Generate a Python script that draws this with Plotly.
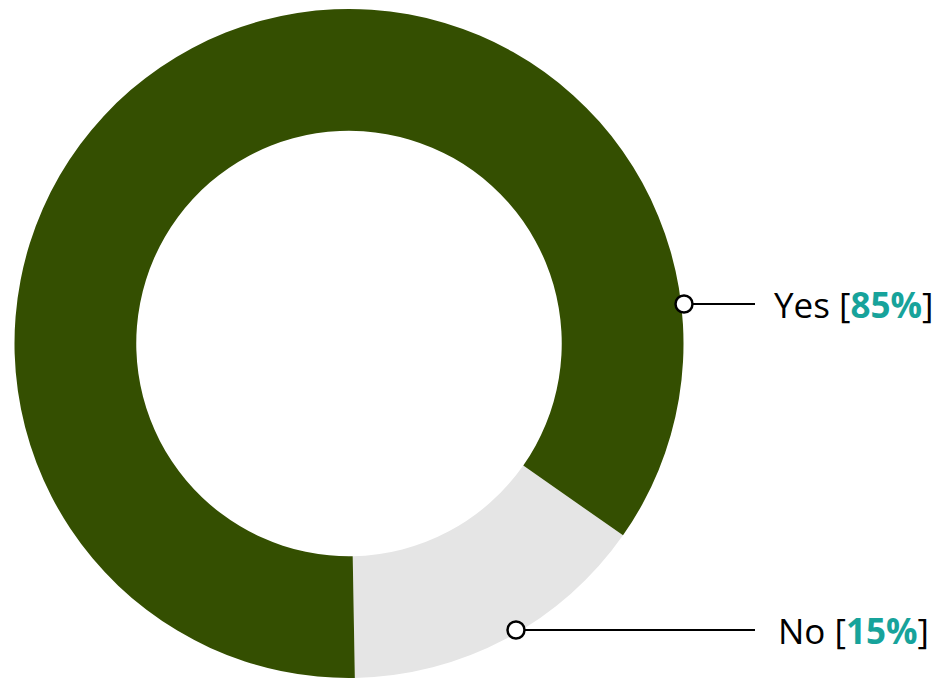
import plotly.graph_objects as go

# Survey answers and their share of responses (%)
labels = ["No", "Yes"]
values = [15, 85]
colors = ["#e5e5e5", "#344f01"]

W, H = 935, 678

fig = go.Figure(
    go.Pie(
        labels=labels,
        values=values,
        hole=0.636,
        sort=False,
        direction="clockwise",
        rotation=125,
        marker=dict(colors=colors, line=dict(width=0)),
        textinfo="none",
        hoverinfo="label+percent",
        showlegend=False,
        domain=dict(x=[14 / W, 684 / W], y=[0, 1 - 9 / H]),
    )
)

# Callouts: (marker x, marker y, line end x, text x) in pixels
callouts = {
    "Yes": (684, 304, 755, 772),
    "No": (516, 630, 755, 776),
}

shapes = []
annotations = []
for lab, val in zip(labels, values):
    mx, my, lx, tx = callouts[lab]
    py = 1 - my / H
    shapes.append(dict(type="line", xref="paper", yref="paper",
                       x0=mx / W, x1=lx / W, y0=py, y1=py,
                       line=dict(color="black", width=2)))
    r = 8.5
    shapes.append(dict(type="circle", xref="paper", yref="paper",
                       x0=(mx - r) / W, x1=(mx + r) / W,
                       y0=py - r / H, y1=py + r / H,
                       fillcolor="white", line=dict(color="black", width=2.5)))
    annotations.append(dict(
        xref="paper", yref="paper", x=tx / W, y=py,
        xanchor="left", yanchor="middle", showarrow=False,
        text=f"{lab} [<b><span style='color:#17a39b'>{val}%</span></b>]",
        font=dict(family="Open Sans", size=35, color="black"),
    ))

fig.update_layout(
    width=W, height=H,
    margin=dict(l=0, r=0, t=0, b=0),
    paper_bgcolor="white",
    plot_bgcolor="white",
    shapes=shapes,
    annotations=annotations,
)

fig.write_html("out.html")
